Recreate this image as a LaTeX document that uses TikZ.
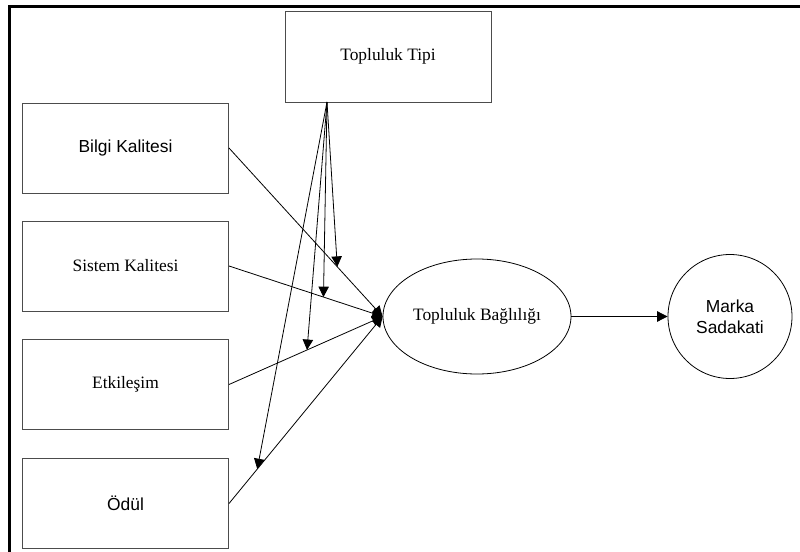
\documentclass[tikz,border=0pt]{standalone}
\usepackage{fontspec}
\setmainfont{Liberation Serif}
\setsansfont{Liberation Sans}
\usetikzlibrary{arrows.meta,shapes.geometric}

\begin{document}
\begin{tikzpicture}[x=0.5pt, y=-0.5pt, >={Triangle[length=5.2pt, width=5.2pt]},
  box/.style={rectangle, draw=black!70, line width=0.5pt, minimum width=103pt, minimum height=45pt, inner sep=0pt, font=\fontsize{8.7}{10.3}\selectfont},
  sbox/.style={box, font=\sffamily\fontsize{8.7}{10.3}\selectfont},
  bagl/.style={ellipse, draw, line width=0.4pt, minimum width=94pt, minimum height=57.5pt, inner sep=0pt, font=\fontsize{8.7}{10.3}\selectfont},
  sonuc/.style={circle, draw, line width=0.4pt, minimum size=62pt, inner sep=0pt, align=center, font=\sffamily\fontsize{8.7}{10.3}\selectfont},
  edge/.style={->, line width=0.4pt, draw=black}
]
\useasboundingbox (0,0) rectangle (800,552);
\draw[line width=1.5pt] (9.5,552) -- (9.5,6) -- (800,6);
\node[box, minimum height=45.5pt] (tipi) at (388,56.5) {Topluluk Tipi};
\node[sbox] (bilgi) at (125.5,148) {Bilgi Kalitesi};
\node[box] (sistem) at (125.5,266) {Sistem Kalitesi};
\node[box] (etki) at (125.5,384.5) {Etkile\c{s}im};
\node[sbox] (odul) at (125.5,503.5) {Ödül};
\node[bagl] (bag) at (477,316.5) {Topluluk Bağlılığı};
\node[sonuc] (marka) at (730,316.5) {Marka\\Sadakati};
\coordinate (t0) at (327,102);
\draw[edge] (bilgi.east) -- (bag.west) coordinate[pos=0.705] (m1);
\draw[edge] (sistem.east) -- (bag.west) coordinate[pos=0.615] (m2);
\draw[edge] (etki.east) -- (bag.west) coordinate[pos=0.508] (m3);
\draw[edge] (odul.east) -- (bag.west) coordinate[pos=0.184] (m4);
\draw[edge] (t0) -- (m1);
\draw[edge] (t0) -- (m2);
\draw[edge] (t0) -- (m3);
\draw[edge] (t0) -- (m4);
\draw[edge] (bag) -- (marka);
\end{tikzpicture}
\end{document}
